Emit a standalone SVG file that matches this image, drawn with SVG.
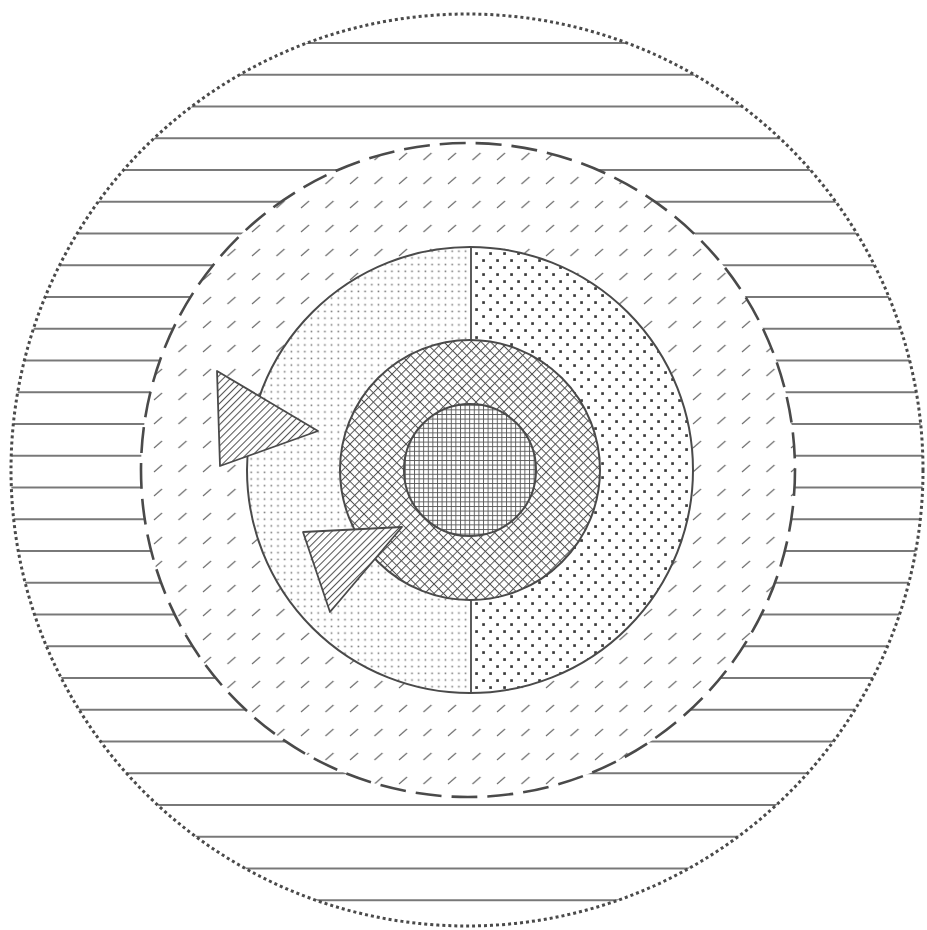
<svg xmlns="http://www.w3.org/2000/svg" width="927" height="930" viewBox="0 0 927 930">
<style>
.edge{stroke:#4a4a4a}
.nofill{fill:none}
</style>
<defs>
<pattern id="hlines" patternUnits="userSpaceOnUse" x="0" y="42" width="40" height="31.75">
<line x1="0" y1="1" x2="40" y2="1" stroke="#4a4a4a" stroke-width="1.7"/>
</pattern>
<pattern id="slashes" patternUnits="userSpaceOnUse" x="4" y="2" width="24.5" height="24">
<line x1="3" y1="14" x2="11" y2="7" stroke="#6a6a6a" stroke-width="1.1"/>
</pattern>
<pattern id="finedots" patternUnits="userSpaceOnUse" x="0" y="0" width="6.7" height="6.7">
<rect x="2.5" y="2.5" width="1.6" height="1.6" fill="#777"/>
</pattern>
<pattern id="bigdots" patternUnits="userSpaceOnUse" x="473" y="250" width="14" height="14">
<rect x="2.2" y="2.2" width="2.7" height="2.7" fill="#3a3a3a"/>
<rect x="9.2" y="9.2" width="2.7" height="2.7" fill="#3a3a3a"/>
</pattern>
<pattern id="cross" patternUnits="userSpaceOnUse" width="6.6" height="6.6" patternTransform="rotate(45)">
<line x1="0" y1="0.5" x2="6.6" y2="0.5" stroke="#555" stroke-width="1"/>
<line x1="0.5" y1="0" x2="0.5" y2="6.6" stroke="#555" stroke-width="1"/>
</pattern>
<pattern id="grid" patternUnits="userSpaceOnUse" width="4.6" height="4.6">
<line x1="0" y1="0.5" x2="4.6" y2="0.5" stroke="#555" stroke-width="0.9"/>
<line x1="0.5" y1="0" x2="0.5" y2="4.6" stroke="#555" stroke-width="0.9"/>
</pattern>
<pattern id="hatch" patternUnits="userSpaceOnUse" width="5" height="5" patternTransform="rotate(45)">
<line x1="0.5" y1="0" x2="0.5" y2="5" stroke="#555" stroke-width="1.1"/>
</pattern>
<clipPath id="leftHalf"><rect x="0" y="0" width="471" height="930"/></clipPath>
<clipPath id="rightHalf"><rect x="471" y="0" width="456" height="930"/></clipPath>
</defs>
<rect width="927" height="930" fill="#fff"/>
<g id="outer-ring">
<circle cx="467" cy="470" r="456" fill="url(#hlines)"/>
<circle cx="467" cy="470" r="456" class="edge nofill" stroke-width="3" stroke-dasharray="3 3"/>
</g>
<g id="dashed-zone">
<circle cx="468" cy="470" r="327" fill="#fff"/>
<circle cx="468" cy="470" r="327" fill="url(#slashes)"/>
<circle cx="468" cy="470" r="327" class="edge nofill" stroke-width="2.6" stroke-dasharray="26 10"/>
</g>
<g id="middle-circle">
<circle cx="470" cy="470" r="223" fill="#fff"/>
<circle cx="470" cy="470" r="223" fill="url(#finedots)" clip-path="url(#leftHalf)"/>
<circle cx="470" cy="470" r="223" fill="url(#bigdots)" clip-path="url(#rightHalf)"/>
<line x1="471" y1="247" x2="471" y2="693" class="edge" stroke-width="1.8"/>
<circle cx="470" cy="470" r="223" class="edge nofill" stroke-width="2"/>
</g>
<g id="crosshatch-ring">
<circle cx="470" cy="470" r="130" fill="#fff"/>
<circle cx="470" cy="470" r="130" fill="url(#cross)"/>
<circle cx="470" cy="470" r="130" class="edge nofill" stroke-width="2"/>
</g>
<g id="inner-circle">
<circle cx="470" cy="470" r="66" fill="#fff"/>
<circle cx="470" cy="470" r="66" fill="url(#grid)"/>
<circle cx="470" cy="470" r="66" class="edge nofill" stroke-width="2"/>
</g>
<g id="triangle-1">
<polygon points="217,371 220,466 318,431" fill="#fff"/>
<polygon points="217,371 220,466 318,431" fill="url(#hatch)" class="edge" stroke-width="1.8" stroke-linejoin="round"/>
</g>
<g id="triangle-2">
<polygon points="303,532 402,527 330,612" fill="#fff"/>
<polygon points="303,532 402,527 330,612" fill="url(#hatch)" class="edge" stroke-width="1.8" stroke-linejoin="round"/>
</g>
</svg>
